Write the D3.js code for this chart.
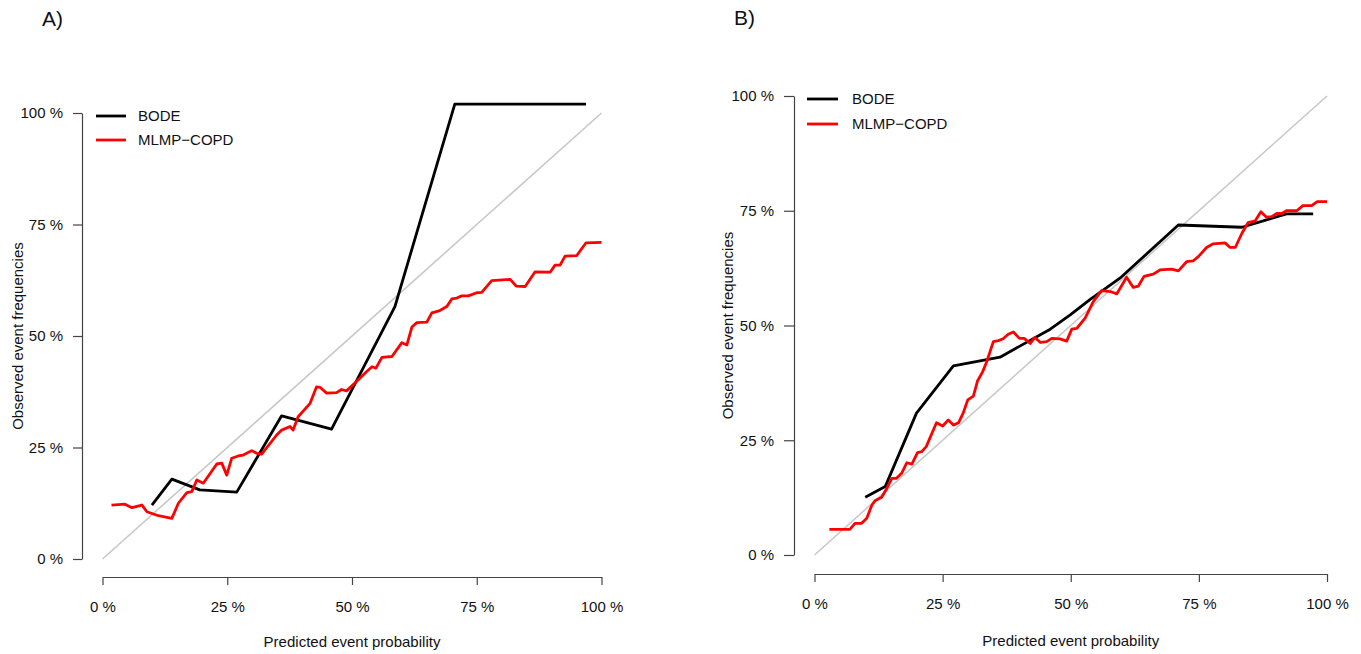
<!DOCTYPE html>
<html><head><meta charset="utf-8">
<script src="https://cdn.jsdelivr.net/npm/d3@7"></script>
<style>
html,body{margin:0;padding:0;background:#fff;}
text{font-family:"Liberation Sans",Arial,Helvetica,sans-serif;}
</style></head>
<body><svg id="chart" width="1361" height="654"></svg>
<script>
// ---- data (percent values) ----
const tickValues = [0, 25, 50, 75, 100];
const tickLabels = ["0 %", "25 %", "50 %", "75 %", "100 %"];
const seriesNames = ["BODE", "MLMP\u2212COPD"];
const seriesColors = ["#000000", "#ff0000"];

const bodeA_x = [9.9, 13.9, 19.5, 26.9, 35.9, 45.9, 58.6, 70.6, 96.9];
const bodeA_y = [12.1, 17.9, 15.5, 15.0, 32.1, 29.1, 56.6, 102.0, 102.0];

const mlmpA_x = [1.8, 4.5, 5.9, 7.9, 8.9, 11.2, 13.9, 15.2, 16.9, 17.9, 18.9, 20.2, 22.9, 23.9, 24.9, 25.9, 27.2, 28.2, 29.9, 30.9, 31.9, 34.9, 35.9, 37.6, 38.2, 39.2, 41.6, 42.9, 43.6, 44.9, 46.9, 47.9, 48.9, 50.9, 52.9, 54.0, 54.8, 56.0, 58.0, 60.0, 61.0, 62.0, 63.0, 65.0, 66.0, 67.6, 69.0, 70.0, 71.0, 72.0, 73.3, 75.0, 76.0, 78.0, 81.7, 82.9, 84.7, 86.7, 89.7, 90.7, 91.7, 92.7, 95.0, 96.9, 100.0];
const mlmpA_y = [12.1, 12.3, 11.5, 12.1, 10.6, 9.7, 9.1, 12.5, 14.9, 15.1, 17.7, 17.0, 21.3, 21.5, 18.8, 22.6, 23.1, 23.3, 24.3, 23.7, 23.5, 27.8, 28.9, 29.7, 28.9, 31.9, 34.9, 38.6, 38.5, 37.2, 37.3, 38.0, 37.7, 39.8, 42.0, 43.1, 42.8, 45.2, 45.4, 48.5, 48.0, 52.0, 53.0, 53.1, 55.2, 55.7, 56.6, 58.3, 58.5, 59.0, 59.0, 59.7, 59.8, 62.4, 62.7, 61.2, 61.1, 64.4, 64.3, 65.9, 65.9, 67.9, 68.0, 70.9, 71.0];

const bodeB_x = [9.9, 13.8, 19.9, 27.1, 36.2, 46.0, 49.9, 53.8, 59.6, 71.0, 83.4, 92.1, 97.3];
const bodeB_y = [12.6, 14.9, 30.9, 41.2, 43.1, 49.2, 52.3, 55.7, 60.3, 71.9, 71.4, 74.3, 74.3];

const mlmpB_x = [2.9, 6.9, 7.9, 9.2, 10.2, 11.2, 11.8, 13.1, 14.1, 15.1, 16.0, 17.0, 18.0, 19.0, 20.1, 20.9, 21.8, 23.8, 25.0, 26.1, 27.1, 28.1, 29.0, 29.9, 31.0, 31.8, 32.8, 33.6, 34.9, 35.9, 36.8, 37.8, 38.8, 40.0, 40.9, 42.1, 43.0, 44.1, 45.3, 46.3, 47.9, 49.2, 50.2, 51.2, 52.8, 54.4, 56.0, 57.7, 59.0, 60.9, 62.2, 63.2, 64.3, 66.1, 67.4, 69.7, 71.0, 72.6, 73.9, 74.9, 76.5, 77.8, 80.1, 81.1, 82.1, 83.4, 84.6, 86.0, 87.1, 88.2, 89.2, 90.2, 91.2, 92.1, 94.1, 95.3, 97.0, 98.1, 100.0];
const mlmpB_y = [5.6, 5.6, 6.9, 6.9, 8.0, 10.9, 11.8, 12.6, 14.5, 16.7, 16.7, 17.8, 20.1, 19.8, 22.3, 22.5, 23.6, 28.8, 28.1, 29.4, 28.3, 28.8, 30.9, 33.8, 34.6, 37.9, 39.9, 42.1, 46.5, 46.7, 47.1, 48.1, 48.6, 47.2, 47.2, 46.1, 47.4, 46.3, 46.5, 47.2, 47.1, 46.6, 49.2, 49.4, 51.6, 55.2, 57.6, 57.4, 56.9, 60.5, 58.3, 58.6, 60.7, 61.2, 62.1, 62.3, 61.9, 63.9, 64.1, 65.0, 67.0, 67.8, 68.0, 67.0, 67.0, 70.1, 72.4, 72.8, 74.8, 73.6, 73.7, 74.4, 74.4, 75.0, 75.0, 76.1, 76.1, 77.0, 77.0];

const xTitle = "Predicted event probability";
const yTitle = "Observed event frequencies";

// ---- layout ----
const panels = [
  { label: "A)", labelX: 42, labelY: 26,
    xr: [102.5, 601.5], yr: [559, 113], xAxisY: 577, yAxisX: 82,
    xTick: 8, yTick: 9, xPad: 16, yPad: 10,
    legX: [96, 126], legY: [116, 140], legTextX: 138,
    xTitleY: 647, yTitleX: 23,
    series: [[bodeA_x, bodeA_y], [mlmpA_x, mlmpA_y]] },
  { label: "B)", labelX: 734, labelY: 25,
    xr: [814.5, 1327], yr: [555, 96], xAxisY: 574, yAxisX: 794,
    xTick: 8, yTick: 10, xPad: 16, yPad: 10,
    legX: [807, 838], legY: [99, 124], legTextX: 852,
    xTitleY: 646, yTitleX: 733,
    series: [[bodeB_x, bodeB_y], [mlmpB_x, mlmpB_y]] }
];

const svg = d3.select("#chart");
const axisColor = "#444";
const fs = 15;

panels.forEach(p => {
  const g = svg.append("g");
  const x = d3.scaleLinear().domain([0, 100]).range(p.xr);
  const y = d3.scaleLinear().domain([0, 100]).range(p.yr);
  const fmt = d => tickLabels[tickValues.indexOf(d)];

  // x axis
  const gx = g.append("g").attr("transform", `translate(0,${p.xAxisY})`)
    .call(d3.axisBottom(x).tickValues(tickValues).tickFormat(fmt)
      .tickSize(p.xTick).tickSizeOuter(0).tickPadding(p.xPad));
  // y axis
  const yy = d3.scaleLinear().domain([0, 100]).range(p.yr);
  const gy = g.append("g").attr("transform", `translate(${p.yAxisX},0)`)
    .call(d3.axisLeft(yy).tickValues(tickValues).tickFormat(fmt)
      .tickSize(p.yTick).tickSizeOuter(0).tickPadding(p.yPad));
  [gx, gy].forEach(a => {
    a.selectAll("path,line").attr("stroke", axisColor).attr("stroke-width", 1.2);
    a.selectAll("text").attr("fill", "#111").style("font-size", fs + "px")
      .style("font-family", '"Liberation Sans",Arial,sans-serif');
  });

  // diagonal reference
  g.append("line")
    .attr("x1", x(0)).attr("y1", y(0)).attr("x2", x(100)).attr("y2", y(100))
    .attr("stroke", "#c8c8c8").attr("stroke-width", 1.6);

  // series
  const line = d3.line().x(d => x(d[0])).y(d => y(d[1]));
  p.series.forEach((s, i) => {
    const pts = s[0].map((v, k) => [v, s[1][k]]);
    g.append("path").datum(pts).attr("d", line)
      .attr("fill", "none").attr("stroke", seriesColors[i])
      .attr("stroke-width", 2.8).attr("stroke-linejoin", "round");
  });

  // legend
  seriesNames.forEach((n, i) => {
    g.append("line").attr("x1", p.legX[0]).attr("x2", p.legX[1])
      .attr("y1", p.legY[i]).attr("y2", p.legY[i])
      .attr("stroke", seriesColors[i]).attr("stroke-width", 2.8);
    g.append("text").attr("x", p.legTextX).attr("y", p.legY[i]).attr("dy", "0.35em")
      .style("font-size", fs + "px").attr("fill", "#111").text(n);
  });

  // titles
  g.append("text").attr("x", (p.xr[0] + p.xr[1]) / 2).attr("y", p.xTitleY)
    .attr("text-anchor", "middle").style("font-size", fs + "px").attr("fill", "#111").text(xTitle);
  const cy = (p.yr[0] + p.yr[1]) / 2;
  g.append("text").attr("transform", `translate(${p.yTitleX},${cy}) rotate(-90)`)
    .attr("text-anchor", "middle").style("font-size", fs + "px").attr("fill", "#111").text(yTitle);

  g.append("text").attr("x", p.labelX).attr("y", p.labelY)
    .style("font-size", "21px").attr("fill", "#111").text(p.label);
});
</script>
</body></html>
